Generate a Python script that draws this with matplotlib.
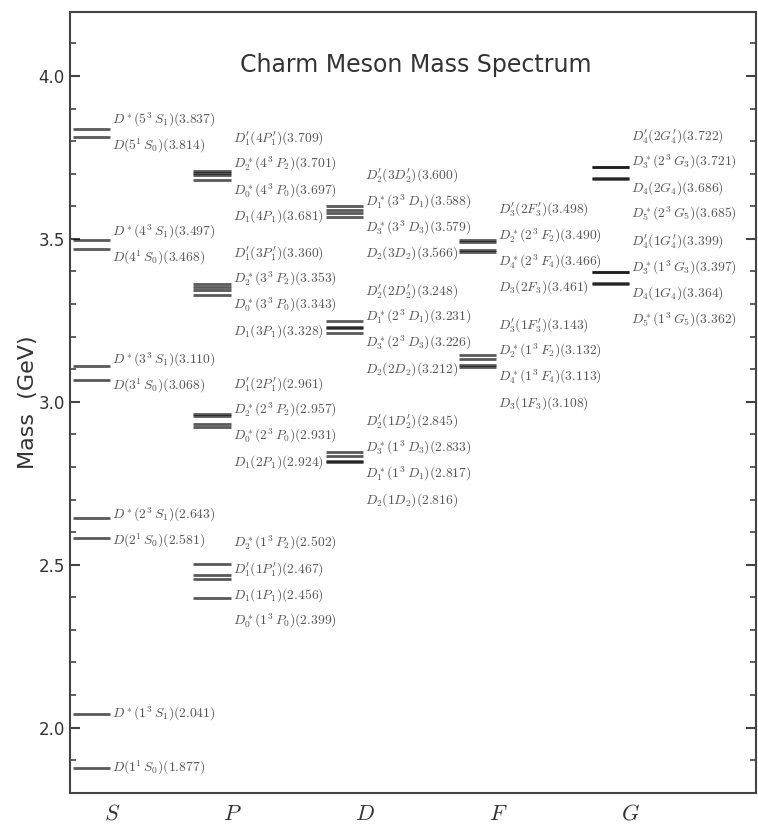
import numpy as np
import matplotlib.pyplot as plt
from matplotlib.ticker import MultipleLocator

# Charm meson spectrum, one list per orbital wave
waves = ['S', 'P', 'D', 'F', 'G']

S_names = [r'D^*(5^3\,S_1)', r'D(5^1\,S_0)', r'D^*(4^3\,S_1)', r'D(4^1\,S_0)',
           r'D^*(3^3\,S_1)', r'D(3^1\,S_0)', r'D^*(2^3\,S_1)', r'D(2^1\,S_0)',
           r'D^*(1^3\,S_1)', r'D(1^1\,S_0)']
S_mass = [3.837, 3.814, 3.497, 3.468, 3.110, 3.068, 2.643, 2.581, 2.041, 1.877]
S_group = [5, 5, 4, 4, 3, 3, 2, 2, 1, 1]

P_names = [r"D_1'(4P_1')", r'D_2^*(4^3\,P_2)', r'D_0^*(4^3\,P_0)', r'D_1(4P_1)',
           r"D_1'(3P_1')", r'D_2^*(3^3\,P_2)', r'D_0^*(3^3\,P_0)', r'D_1(3P_1)',
           r"D_1'(2P_1')", r'D_2^*(2^3\,P_2)', r'D_0^*(2^3\,P_0)', r'D_1(2P_1)',
           r'D_2^*(1^3\,P_2)', r"D_1'(1P_1')", r'D_1(1P_1)', r'D_0^*(1^3\,P_0)']
P_mass = [3.709, 3.701, 3.697, 3.681, 3.360, 3.353, 3.343, 3.328,
          2.961, 2.957, 2.931, 2.924, 2.502, 2.467, 2.456, 2.399]
P_group = [4]*4 + [3]*4 + [2]*4 + [1]*4

D_names = [r"D_2'(3D_2')", r'D_1^*(3^3\,D_1)', r'D_3^*(3^3\,D_3)', r'D_2(3D_2)',
           r"D_2'(2D_2')", r'D_1^*(2^3\,D_1)', r'D_3^*(2^3\,D_3)', r'D_2(2D_2)',
           r"D_2'(1D_2')", r'D_3^*(1^3\,D_3)', r'D_1^*(1^3\,D_1)', r'D_2(1D_2)']
D_mass = [3.600, 3.588, 3.579, 3.566, 3.248, 3.231, 3.226, 3.212,
          2.845, 2.833, 2.817, 2.816]
D_group = [3]*4 + [2]*4 + [1]*4

F_names = [r"D_3'(2F_3')", r'D_2^*(2^3\,F_2)', r'D_4^*(2^3\,F_4)', r'D_3(2F_3)',
           r"D_3'(1F_3')", r'D_2^*(1^3\,F_2)', r'D_4^*(1^3\,F_4)', r'D_3(1F_3)']
F_mass = [3.498, 3.490, 3.466, 3.461, 3.143, 3.132, 3.113, 3.108]
F_group = [2]*4 + [1]*4

G_names = [r"D_4'(2G_4')", r'D_3^*(2^3\,G_3)', r'D_4(2G_4)', r'D_5^*(2^3\,G_5)',
           r"D_4'(1G_4')", r'D_3^*(1^3\,G_3)', r'D_4(1G_4)', r'D_5^*(1^3\,G_5)']
G_mass = [3.722, 3.721, 3.686, 3.685, 3.399, 3.397, 3.364, 3.362]
G_group = [2]*4 + [1]*4

all_names = [S_names, P_names, D_names, F_names, G_names]
all_mass = [S_mass, P_mass, D_mass, F_mass, G_mass]
all_group = [S_group, P_group, D_group, F_group, G_group]

# column positions on the x axis
x_pos = [1.09, 2.0, 3.0, 4.0, 5.0]
line_len = 0.28
label_sp = 0.080

plt.rc('mathtext', fontset='cm')

fig = plt.figure(figsize=(7.58, 8.25), dpi=100)
ax = fig.add_axes([0.092, 0.039, 0.905, 0.946])

spine_col = '#444444'
for s in ax.spines.values():
    s.set_color(spine_col)
    s.set_linewidth(1.5)

for xc, names, mass, group in zip(x_pos, all_names, all_mass, all_group):
    mass = np.array(mass)
    group = np.array(group)
    for g in np.unique(group):
        idx = np.where(group == g)[0]
        m = mass[idx]
        # level lines
        for mi in m:
            ax.plot([xc - line_len - 0.015, xc - 0.015], [mi, mi], color='k',
                    lw=2.0, alpha=0.65, solid_capstyle='butt')
        # label positions: keep actual value when well separated
        gaps = -np.diff(m)
        if len(m) > 1 and gaps.min() < label_sp:
            c = m.mean() - (0.008 if len(m) > 2 else 0.0)
            ypos = c + label_sp * ((len(m) - 1) / 2 - np.arange(len(m)))
        else:
            ypos = m
        for i, yl in zip(idx, ypos):
            ax.text(xc, yl, '$' + names[i] + '(%.3f)$' % mass[i], fontsize=9.8,
                    color='#555555', ha='left', va='center')

ax.set_xlim(0.773, 5.94)
ax.set_ylim(1.8, 4.195)
ax.set_xticks(x_pos)
ax.set_xticklabels(['$' + w + '$' for w in waves], fontsize=16, color='#333333')
ax.tick_params(axis='x', length=0, pad=8)
ax.yaxis.set_major_locator(MultipleLocator(0.5))
ax.yaxis.set_minor_locator(MultipleLocator(0.1))
ax.set_yticks([2.0, 2.5, 3.0, 3.5, 4.0])
ax.set_yticklabels(['2.0', '2.5', '3.0', '3.5', '4.0'])
ax.tick_params(axis='y', which='both', direction='in', right=True,
               colors=spine_col, labelcolor='#333333', labelsize=12)
ax.tick_params(axis='y', which='major', length=7, width=1.5)
ax.tick_params(axis='y', which='minor', length=4, width=1.2)
ax.set_ylabel('Mass  (GeV)', fontsize=16, color='#333333', labelpad=0)

ax.text(0.504, 0.932, 'Charm Meson Mass Spectrum', transform=ax.transAxes,
        fontsize=17, color='#333333', ha='center', va='center')

plt.savefig('out.png', dpi=100)
